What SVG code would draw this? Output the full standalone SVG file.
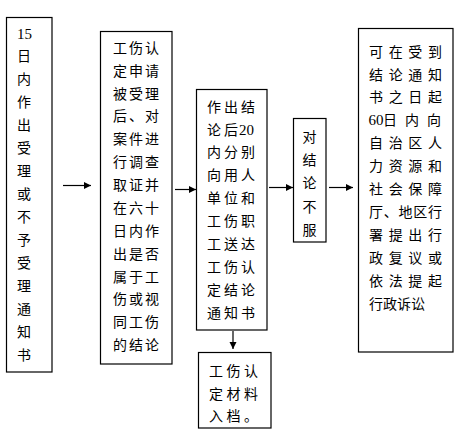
<svg xmlns="http://www.w3.org/2000/svg" width="472" height="438" viewBox="0 0 472 438">
<defs>
<marker id="ah" markerUnits="userSpaceOnUse" markerWidth="8" markerHeight="8" refX="7" refY="3.5" orient="auto">
<path d="M0,0 L7,3.5 L0,7 z" fill="#000"/>
</marker>
<style>
.box{fill:#fff;stroke:#000;stroke-width:1.2}
.t{font-family:"Noto Sans CJK SC","Noto Sans CJK JP",sans-serif;font-size:14px;fill:#000}
.c{text-anchor:middle}
.n{font-family:"Liberation Serif",serif;font-size:15px}
.ln{stroke:#000;stroke-width:1.2;fill:none;marker-end:url(#ah)}
</style>
</defs>
<rect width="472" height="438" fill="#fff"/>
<g id="connectors">
<line class="ln" x1="63" y1="185.5" x2="91" y2="185.5"/>
<line class="ln" x1="175" y1="189.5" x2="196" y2="189.5"/>
<line class="ln" x1="269" y1="187.5" x2="293" y2="187.5"/>
<line class="ln" x1="329" y1="187.5" x2="353" y2="187.5"/>
<line class="ln" x1="233" y1="331" x2="233" y2="349"/>
</g>
<g id="n1">
<rect class="box" x="6.5" y="17.5" width="45.5" height="354.5"/>
<g class="t c">
<text x="24.5" y="39" class="n">15</text>
<text x="24" y="61">日</text>
<text x="24" y="84">内</text>
<text x="24" y="107">作</text>
<text x="24" y="130">出</text>
<text x="24" y="153">受</text>
<text x="24" y="176">理</text>
<text x="24" y="199">或</text>
<text x="24" y="222">不</text>
<text x="24" y="245">予</text>
<text x="24" y="268">受</text>
<text x="24" y="291">理</text>
<text x="24" y="314">通</text>
<text x="24" y="337">知</text>
<text x="24" y="360">书</text>
</g>
</g>
<g id="n2">
<rect class="box" x="100.5" y="31.5" width="71.5" height="332.5"/>
<g class="t">
<text x="113" y="53" textLength="46" lengthAdjust="spacing">工伤认</text>
<text x="113" y="76" textLength="46" lengthAdjust="spacing">定申请</text>
<text x="113" y="99" textLength="46" lengthAdjust="spacing">被受理</text>
<text x="113" y="121" textLength="46" lengthAdjust="spacing">后、对</text>
<text x="113" y="144" textLength="46" lengthAdjust="spacing">案件进</text>
<text x="113" y="167" textLength="46" lengthAdjust="spacing">行调查</text>
<text x="113" y="190" textLength="46" lengthAdjust="spacing">取证并</text>
<text x="113" y="213" textLength="46" lengthAdjust="spacing">在六十</text>
<text x="113" y="236" textLength="46" lengthAdjust="spacing">日内作</text>
<text x="113" y="259" textLength="46" lengthAdjust="spacing">出是否</text>
<text x="113" y="282" textLength="46" lengthAdjust="spacing">属于工</text>
<text x="113" y="304" textLength="46" lengthAdjust="spacing">伤或视</text>
<text x="113" y="327" textLength="46" lengthAdjust="spacing">同工伤</text>
<text x="113" y="350" textLength="46" lengthAdjust="spacing">的结论</text>
</g>
</g>
<g id="n3">
<rect class="box" x="196.5" y="89.5" width="70.5" height="240.5"/>
<g class="t">
<text x="207" y="112" textLength="48" lengthAdjust="spacing">作出结</text>
<text x="207" y="135" textLength="31" lengthAdjust="spacing">论后</text><text x="239" y="135" class="n" font-size="16">20</text>
<text x="207" y="157" textLength="48" lengthAdjust="spacing">内分别</text>
<text x="207" y="180" textLength="48" lengthAdjust="spacing">向用人</text>
<text x="207" y="203" textLength="48" lengthAdjust="spacing">单位和</text>
<text x="207" y="226" textLength="48" lengthAdjust="spacing">工伤职</text>
<text x="207" y="249" textLength="48" lengthAdjust="spacing">工送达</text>
<text x="207" y="272" textLength="48" lengthAdjust="spacing">工伤认</text>
<text x="207" y="295" textLength="48" lengthAdjust="spacing">定结论</text>
<text x="207" y="318" textLength="48" lengthAdjust="spacing">通知书</text>
</g>
</g>
<g id="n4">
<rect class="box" x="293.5" y="118.5" width="32.5" height="123.5"/>
<g class="t c">
<text x="309.5" y="142">对</text>
<text x="309.5" y="165">结</text>
<text x="309.5" y="188">论</text>
<text x="309.5" y="212">不</text>
<text x="309.5" y="235">服</text>
</g>
</g>
<g id="n5">
<rect class="box" x="358.5" y="28.5" width="94.5" height="323.5"/>
<g class="t">
<text x="369" y="57" textLength="73" lengthAdjust="spacing">可在受到</text>
<text x="369" y="80" textLength="73" lengthAdjust="spacing">结论通知</text>
<text x="369" y="102" textLength="73" lengthAdjust="spacing">书之日起</text>
<text x="368.5" y="125" class="n" font-size="14">60</text><text x="383" y="125" textLength="58" lengthAdjust="spacing">日内向</text>
<text x="369" y="148" textLength="73" lengthAdjust="spacing">自治区人</text>
<text x="369" y="171" textLength="73" lengthAdjust="spacing">力资源和</text>
<text x="369" y="194" textLength="73" lengthAdjust="spacing">社会保障</text>
<text x="369" y="217" textLength="73" lengthAdjust="spacing">厅、地区行</text>
<text x="369" y="240" textLength="73" lengthAdjust="spacing">署提出行</text>
<text x="369" y="263" textLength="73" lengthAdjust="spacing">政复议或</text>
<text x="369" y="286" textLength="73" lengthAdjust="spacing">依法提起</text>
<text x="369" y="309">行政诉讼</text>
</g>
</g>
<g id="n6">
<rect class="box" x="198.5" y="352.5" width="72.5" height="75.5"/>
<g class="t">
<text x="209" y="376" textLength="49" lengthAdjust="spacing">工伤认</text>
<text x="209" y="399" textLength="49" lengthAdjust="spacing">定材料</text>
<text x="209" y="421" textLength="49" lengthAdjust="spacing">入档。</text>
</g>
</g>
</svg>
